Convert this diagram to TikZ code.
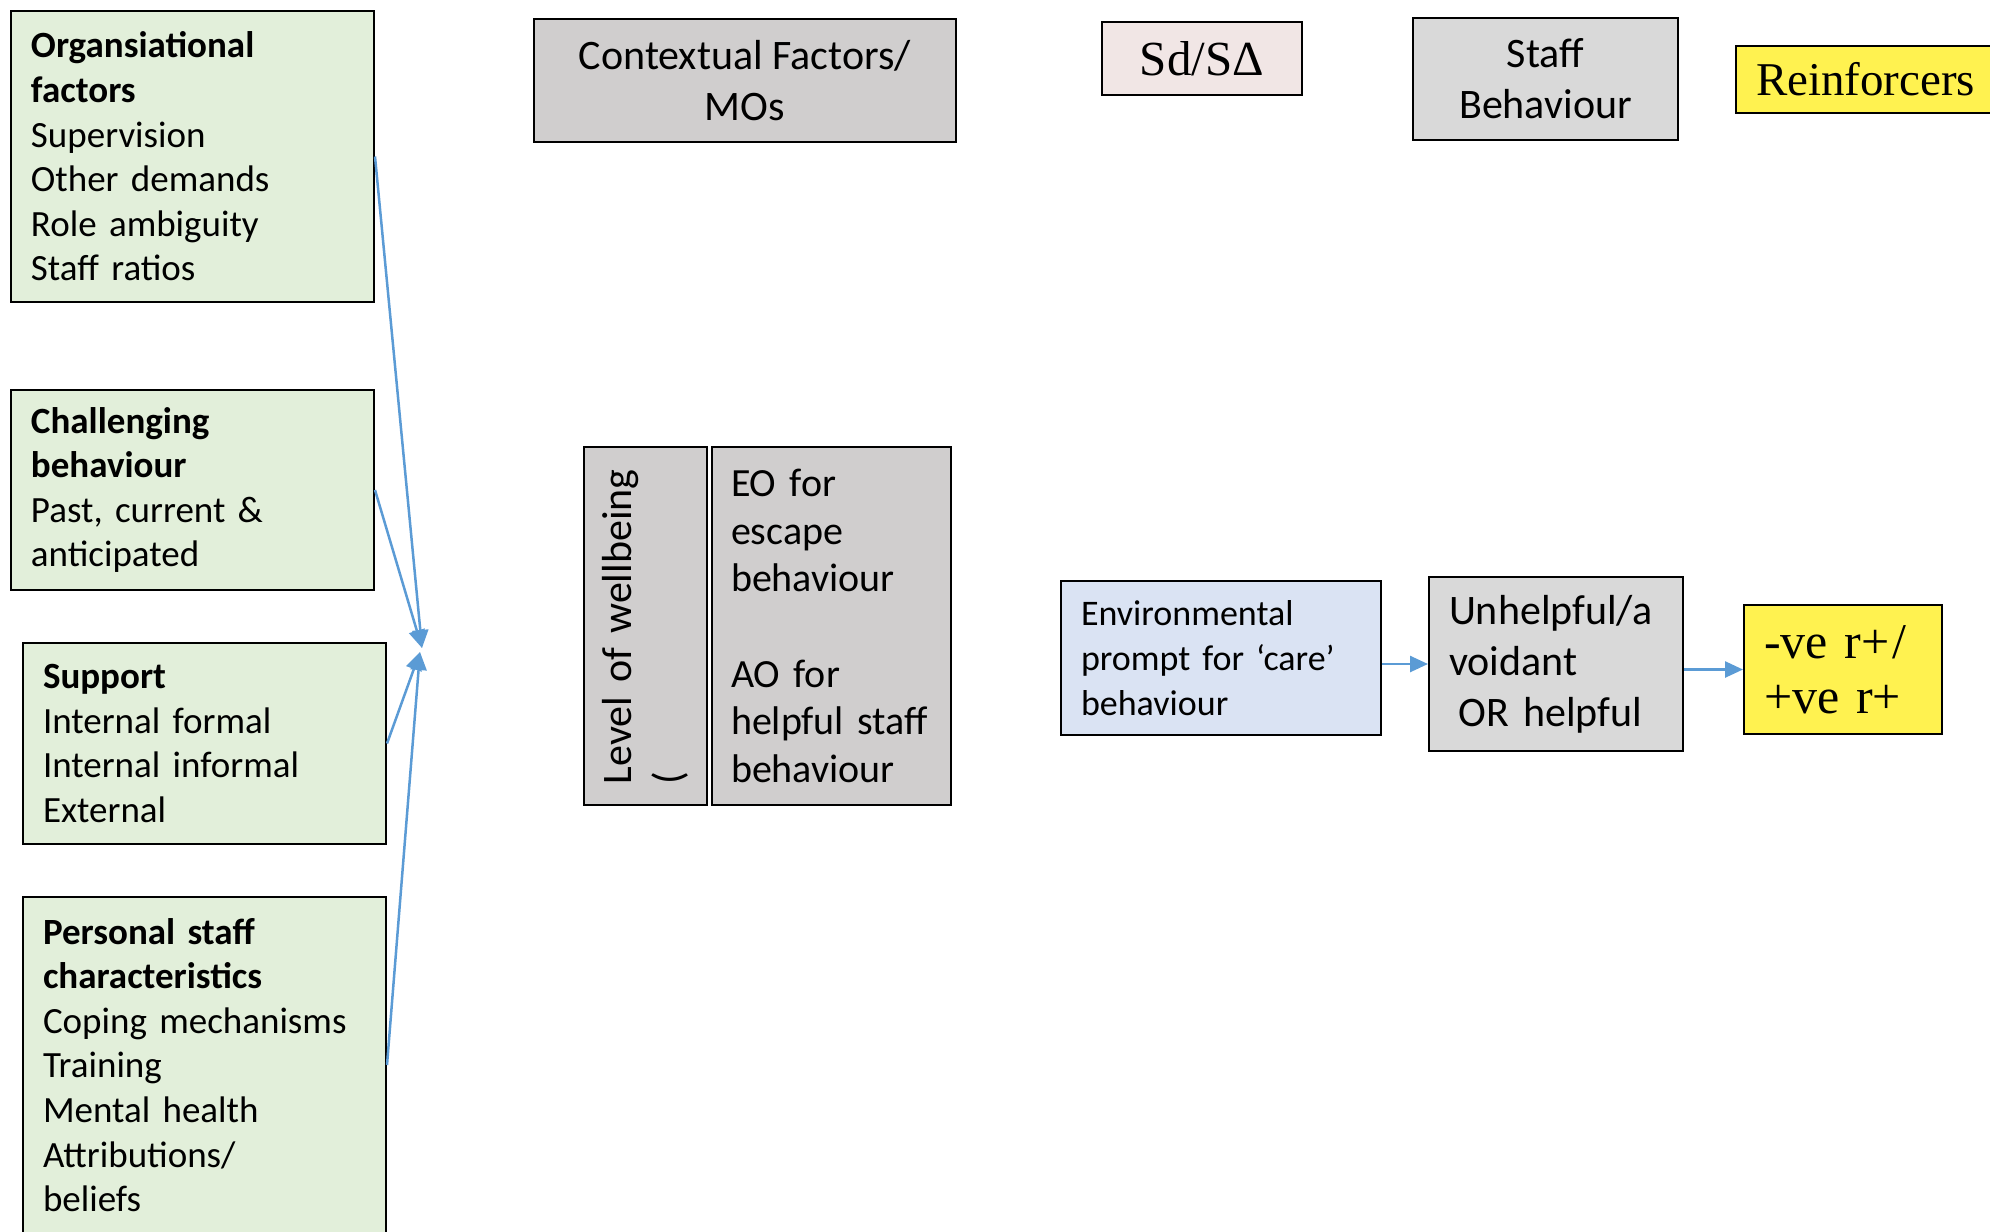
\documentclass[tikz,border=0pt]{standalone}
\usepackage{fontspec}
\setmainfont{Carlito}
\newfontfamily\serifface{Liberation Serif}
\usetikzlibrary{arrows.meta}

\definecolor{factorgreen}{HTML}{E2EFDA}
\definecolor{ctxgray}{HTML}{D0CECE}
\definecolor{boxgray}{HTML}{D9D9D9}
\definecolor{sdpink}{HTML}{F1E6E5}
\definecolor{envblue}{HTML}{DAE3F3}
\definecolor{reinyellow}{HTML}{FFF250}
\definecolor{arrowblue}{HTML}{5B9BD5}

\begin{document}
\begin{tikzpicture}[x=0.5pt,y=-0.5pt,
  box/.style={draw=black, line width=1pt, rectangle, inner ysep=0pt},
  factor/.style={box, fill=factorgreen, align=left, inner xsep=10pt,
    text width=161.5pt, font=\fontsize{18.5}{22.3}\selectfont},
  midfont/.style={font=\fontsize{21}{25.5}\selectfont},
  link/.style={draw=arrowblue, line width=1.25pt,
    -{Triangle[length=9pt,width=8pt]}}]
\useasboundingbox (0,0) rectangle (1990,1231);
\clip (0,0) rectangle (1990,1231);

% influences on staff wellbeing (left column)
\node[factor, minimum height=145.5pt] (org) at (192.5,156.5)
  {\textbf{Organsiational}\\\textbf{factors}\\Supervision\\Other demands\\Role ambiguity\\Staff ratios};
\node[factor, minimum height=100pt] (chal) at (192.5,490)
  {\textbf{Challenging}\\\textbf{behaviour}\\Past, current \&\\anticipated};
\node[factor, minimum height=100.5pt] (supp) at (204.5,743.5)
  {\textbf{Support}\\Internal formal\\Internal informal\\External};
\node[factor, minimum height=168pt] (pers) at (204.5,1065)
  {\textbf{Personal staff}\\\textbf{characteristics}\\Coping mechanisms\\Training\\Mental health\\Attributions/\\beliefs};

% column headings
\node[box, fill=ctxgray, minimum width=211pt, minimum height=61.5pt,
  align=center, midfont] (ctx) at (745,80.5) {Contextual Factors/\\MOs};
\node[box, fill=sdpink, minimum width=100pt, minimum height=36.5pt,
  font=\serifface\fontsize{24.5}{28}\selectfont] (sd) at (1202,58.5) {Sd/SΔ};
\node[box, fill=boxgray, minimum width=132.5pt, minimum height=61pt,
  align=center, midfont] (staff) at (1545.5,79) {Staff\\Behaviour};
\node[box, fill=reinyellow, anchor=west, minimum height=33.5pt,
  text width=112.5pt, inner xsep=10pt, align=left,
  font=\serifface\fontsize{23.5}{27}\selectfont] (reinf) at (1735,79.5) {Reinforcers};

% motivating operations
\node[box, fill=ctxgray, rotate=90, minimum width=179pt, minimum height=61.5pt,
  text width=158pt, inner xsep=10.5pt, align=left, midfont] (well) at (645.5,626)
  {Level of wellbeing\\(};
\node[box, fill=ctxgray, minimum width=119.5pt, minimum height=179pt,
  text width=100.5pt, inner xsep=9.5pt, align=left,
  font=\fontsize{20}{23.8}\selectfont] (eo) at (831.5,626)
  {EO for\\escape\\behaviour\\[23.8pt]AO for\\helpful staff\\behaviour};

% three-term contingency
\node[box, fill=envblue, minimum width=160pt, minimum height=77pt,
  text width=140pt, inner xsep=10pt, align=left,
  font=\fontsize{18}{22.5}\selectfont] (env) at (1221,658)
  {Environmental\\prompt for ‘care’\\behaviour};
\node[box, fill=boxgray, minimum width=127pt, minimum height=87pt,
  text width=107pt, inner xsep=10pt, align=left, midfont] (unh) at (1556,664)
  {Unhelpful/a\\voidant\\\hspace*{0.23em}OR helpful};
\node[box, fill=reinyellow, minimum width=99pt, minimum height=64.5pt,
  text width=79pt, inner xsep=10pt, align=left,
  font=\serifface\fontsize{25}{27.5}\selectfont] (rein) at (1843,669.5)
  {-ve r+\kern1.5pt/\\+ve r+};

% connectors
\coordinate (hubA) at (422,648);
\coordinate (hubB) at (420,652);
\draw[link] (org.east) -- (hubA);
\draw[link] (chal.east) -- (hubA);
\draw[link] (supp.east) -- (hubB);
\draw[link] (pers.east) -- (hubB);
\draw[link] (env.east |- unh.west) -- (unh.west);
\draw[link] (unh.east |- rein.west) -- (rein.west);
\end{tikzpicture}
\end{document}
